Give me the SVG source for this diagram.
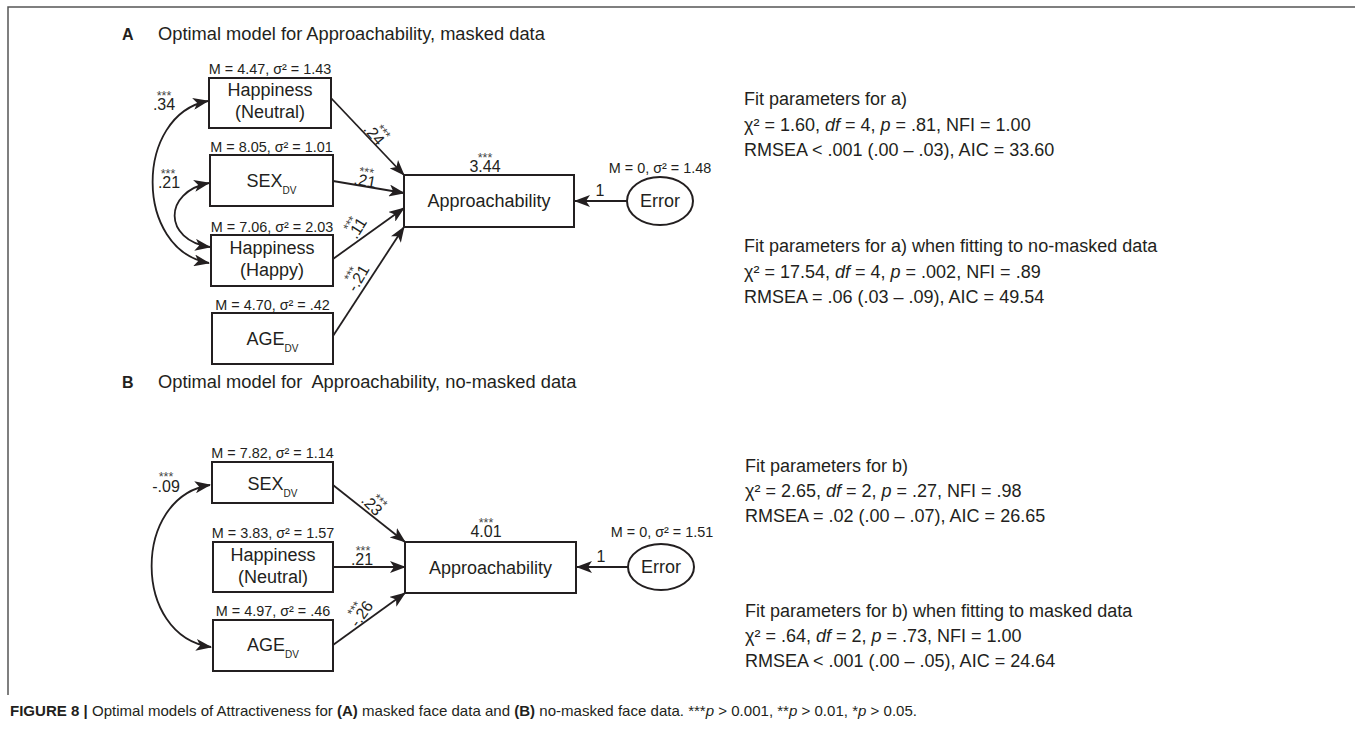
<svg xmlns="http://www.w3.org/2000/svg" width="1355" height="740" viewBox="0 0 1355 740">
<defs>
<style>
text{font-family:"Liberation Sans",Arial,Helvetica,sans-serif;fill:#231f20}
.box{fill:#fff;stroke:#231f20;stroke-width:2}
.ell{fill:#fff;stroke:#231f20;stroke-width:2}
.lbl{font-size:18px;text-anchor:middle}
.m{font-size:14.4px;text-anchor:middle}
.num{font-size:16px;text-anchor:middle}
.st{font-size:12.5px;text-anchor:middle;fill:#444}
.fit{font-size:18px}
.title{font-size:18.3px}
.pl{font-size:16px;font-weight:bold}
.edge{fill:none;stroke:#231f20;stroke-width:1.8}
.frame{fill:none;stroke:#555;stroke-width:1.5}
</style>
<marker id="ah" viewBox="0 0 16 12" refX="15" refY="6" markerWidth="16" markerHeight="12" markerUnits="userSpaceOnUse" orient="auto-start-reverse"><path d="M0,0 L16,6 L0,12 L4,6 z" fill="#231f20"/></marker>
</defs>
<rect width="1355" height="740" fill="#fff"/>
<path class="frame" d="M8,695 L8,7 L1355,7"/>

<!-- Panel A titles -->
<text class="pl" x="122" y="40">A</text>
<text class="title" x="158" y="40">Optimal model for Approachability, masked data</text>

<!-- Connectors A -->
<g id="connectors-a">
<line class="edge" x1="331" y1="98" x2="404" y2="175" marker-end="url(#ah)"/>
<line class="edge" x1="333" y1="181" x2="404" y2="193" marker-end="url(#ah)"/>
<line class="edge" x1="333" y1="259" x2="404" y2="208" marker-end="url(#ah)"/>
<line class="edge" x1="333" y1="336" x2="404" y2="227" marker-end="url(#ah)"/>
<line class="edge" x1="627" y1="201" x2="575" y2="201" marker-end="url(#ah)"/>
<path class="edge" d="M208,101 C134,115 134,250 209,263" marker-start="url(#ah)" marker-end="url(#ah)"/>
<path class="edge" d="M209,183 C163,192 163,240 210,247" marker-start="url(#ah)" marker-end="url(#ah)"/>
<!-- labels -->
<g transform="translate(370,138) rotate(50)"><text class="num" x="0" y="0">.24</text><text class="st" x="4" y="-10">***</text></g>
<g transform="translate(364,186) rotate(10)"><text class="num" x="0" y="0">.21</text><text class="st" x="0" y="-10">***</text></g>
<g transform="translate(362,231) rotate(-58)"><text class="num" x="0" y="0">.11</text><text class="st" x="0" y="-10">***</text></g>
<g transform="translate(363,281) rotate(-60)"><text class="num" x="0" y="0">-.21</text><text class="st" x="0" y="-10">***</text></g>
<text class="num" x="164" y="110">.34</text><text class="st" x="164" y="100">***</text>
<text class="num" x="169" y="188">.21</text><text class="st" x="168" y="178">***</text>
<text class="num" x="600" y="196">1</text>
</g>

<!-- Nodes A -->
<g id="a-happiness-neutral">
<text class="m" x="270" y="74">M = 4.47, σ² = 1.43</text>
<rect class="box" x="209" y="78" width="122" height="50"/>
<text class="lbl" x="270" y="96">Happiness</text>
<text class="lbl" x="270" y="118">(Neutral)</text>
</g>
<g id="a-sex">
<text class="m" x="271.5" y="152">M = 8.05, σ² = 1.01</text>
<rect class="box" x="210" y="155" width="123" height="51"/>
<text class="lbl" x="271.5" y="187">SEX<tspan font-size="10" dy="7">DV</tspan></text>
</g>
<g id="a-happiness-happy">
<text class="m" x="272" y="232">M = 7.06, σ² = 2.03</text>
<rect class="box" x="211" y="235" width="122" height="51"/>
<text class="lbl" x="272" y="254">Happiness</text>
<text class="lbl" x="272" y="276">(Happy)</text>
</g>
<g id="a-age">
<text class="m" x="272.5" y="310">M = 4.70, σ² = .42</text>
<rect class="box" x="212" y="313" width="121" height="51"/>
<text class="lbl" x="272.5" y="345">AGE<tspan font-size="10" dy="7">DV</tspan></text>
</g>
<g id="a-approachability">
<text class="st" x="485" y="162">***</text>
<text class="num" x="485" y="172">3.44</text>
<rect class="box" x="404" y="175" width="170" height="52"/>
<text class="lbl" x="489" y="207">Approachability</text>
</g>
<g id="a-error">
<text class="m" x="660" y="173">M = 0, σ² = 1.48</text>
<ellipse class="ell" cx="660" cy="201" rx="33" ry="24"/>
<text class="lbl" x="660" y="207">Error</text>
</g>

<g id="a-fit">
<text class="fit" x="744" y="105">Fit parameters for a)</text>
<text class="fit" x="744" y="130.5">χ² = 1.60, <tspan font-style="italic">df</tspan> = 4, <tspan font-style="italic">p</tspan> = .81, NFI = 1.00</text>
<text class="fit" x="744" y="156">RMSEA &lt; .001 (.00 – .03), AIC = 33.60</text>
<text class="fit" x="744" y="252">Fit parameters for a) when fitting to no-masked data</text>
<text class="fit" x="744" y="277.5">χ² = 17.54, <tspan font-style="italic">df</tspan> = 4, <tspan font-style="italic">p</tspan> = .002, NFI = .89</text>
<text class="fit" x="744" y="303">RMSEA = .06 (.03 – .09), AIC = 49.54</text>
</g>

<!-- Panel B titles -->
<text class="pl" x="122" y="388">B</text>
<text class="title" x="158" y="388">Optimal model for&#160; Approachability, no-masked data</text>

<g id="connectors-b">
<line class="edge" x1="333" y1="485" x2="405" y2="542" marker-end="url(#ah)"/>
<line class="edge" x1="333" y1="567" x2="405" y2="567" marker-end="url(#ah)"/>
<line class="edge" x1="333" y1="645" x2="405" y2="593" marker-end="url(#ah)"/>
<line class="edge" x1="628" y1="567" x2="577" y2="567" marker-end="url(#ah)"/>
<path class="edge" d="M210,485 C132,497 132,636 211,647" marker-start="url(#ah)" marker-end="url(#ah)"/>
<g transform="translate(368,509) rotate(45)"><text class="num" x="0" y="0">.23</text><text class="st" x="3" y="-10">***</text></g>
<text class="num" x="362" y="565">.21</text><text class="st" x="363" y="555">***</text>
<g transform="translate(366,617) rotate(-55)"><text class="num" x="0" y="0">-.26</text><text class="st" x="0" y="-10">***</text></g>
<text class="num" x="166" y="492">-.09</text><text class="st" x="166" y="481">***</text>
<text class="num" x="601" y="562">1</text>
</g>

<g id="b-sex">
<text class="m" x="272.5" y="458">M = 7.82, σ² = 1.14</text>
<rect class="box" x="212" y="462" width="121" height="41"/>
<text class="lbl" x="272.5" y="490">SEX<tspan font-size="10" dy="7">DV</tspan></text>
</g>
<g id="b-happiness-neutral">
<text class="m" x="273" y="538">M = 3.83, σ² = 1.57</text>
<rect class="box" x="213" y="542" width="120" height="50"/>
<text class="lbl" x="273" y="561">Happiness</text>
<text class="lbl" x="273" y="583">(Neutral)</text>
</g>
<g id="b-age">
<text class="m" x="273" y="616">M = 4.97, σ² = .46</text>
<rect class="box" x="213" y="620" width="120" height="51"/>
<text class="lbl" x="273" y="651">AGE<tspan font-size="10" dy="7">DV</tspan></text>
</g>
<g id="b-approachability">
<text class="st" x="486" y="527">***</text>
<text class="num" x="486" y="537">4.01</text>
<rect class="box" x="405" y="542" width="171" height="51"/>
<text class="lbl" x="490.5" y="574">Approachability</text>
</g>
<g id="b-error">
<text class="m" x="662" y="537">M = 0, σ² = 1.51</text>
<ellipse class="ell" cx="661" cy="567" rx="33" ry="23"/>
<text class="lbl" x="661" y="573">Error</text>
</g>

<g id="b-fit">
<text class="fit" x="745" y="472">Fit parameters for b)</text>
<text class="fit" x="745" y="497">χ² = 2.65, <tspan font-style="italic">df</tspan> = 2, <tspan font-style="italic">p</tspan> = .27, NFI = .98</text>
<text class="fit" x="745" y="522">RMSEA = .02 (.00 – .07), AIC = 26.65</text>
<text class="fit" x="745" y="617">Fit parameters for b) when fitting to masked data</text>
<text class="fit" x="745" y="642">χ² = .64, <tspan font-style="italic">df</tspan> = 2, <tspan font-style="italic">p</tspan> = .73, NFI = 1.00</text>
<text class="fit" x="745" y="667">RMSEA &lt; .001 (.00 – .05), AIC = 24.64</text>
</g>

<text x="10" y="716" font-size="15" textLength="907" lengthAdjust="spacingAndGlyphs"><tspan font-weight="bold">FIGURE 8 |</tspan> Optimal models of Attractiveness for <tspan font-weight="bold">(A)</tspan> masked face data and <tspan font-weight="bold">(B)</tspan> no-masked face data. ***<tspan font-style="italic">p</tspan> &gt; 0.001, **<tspan font-style="italic">p</tspan> &gt; 0.01, *<tspan font-style="italic">p</tspan> &gt; 0.05.</text>
</svg>
